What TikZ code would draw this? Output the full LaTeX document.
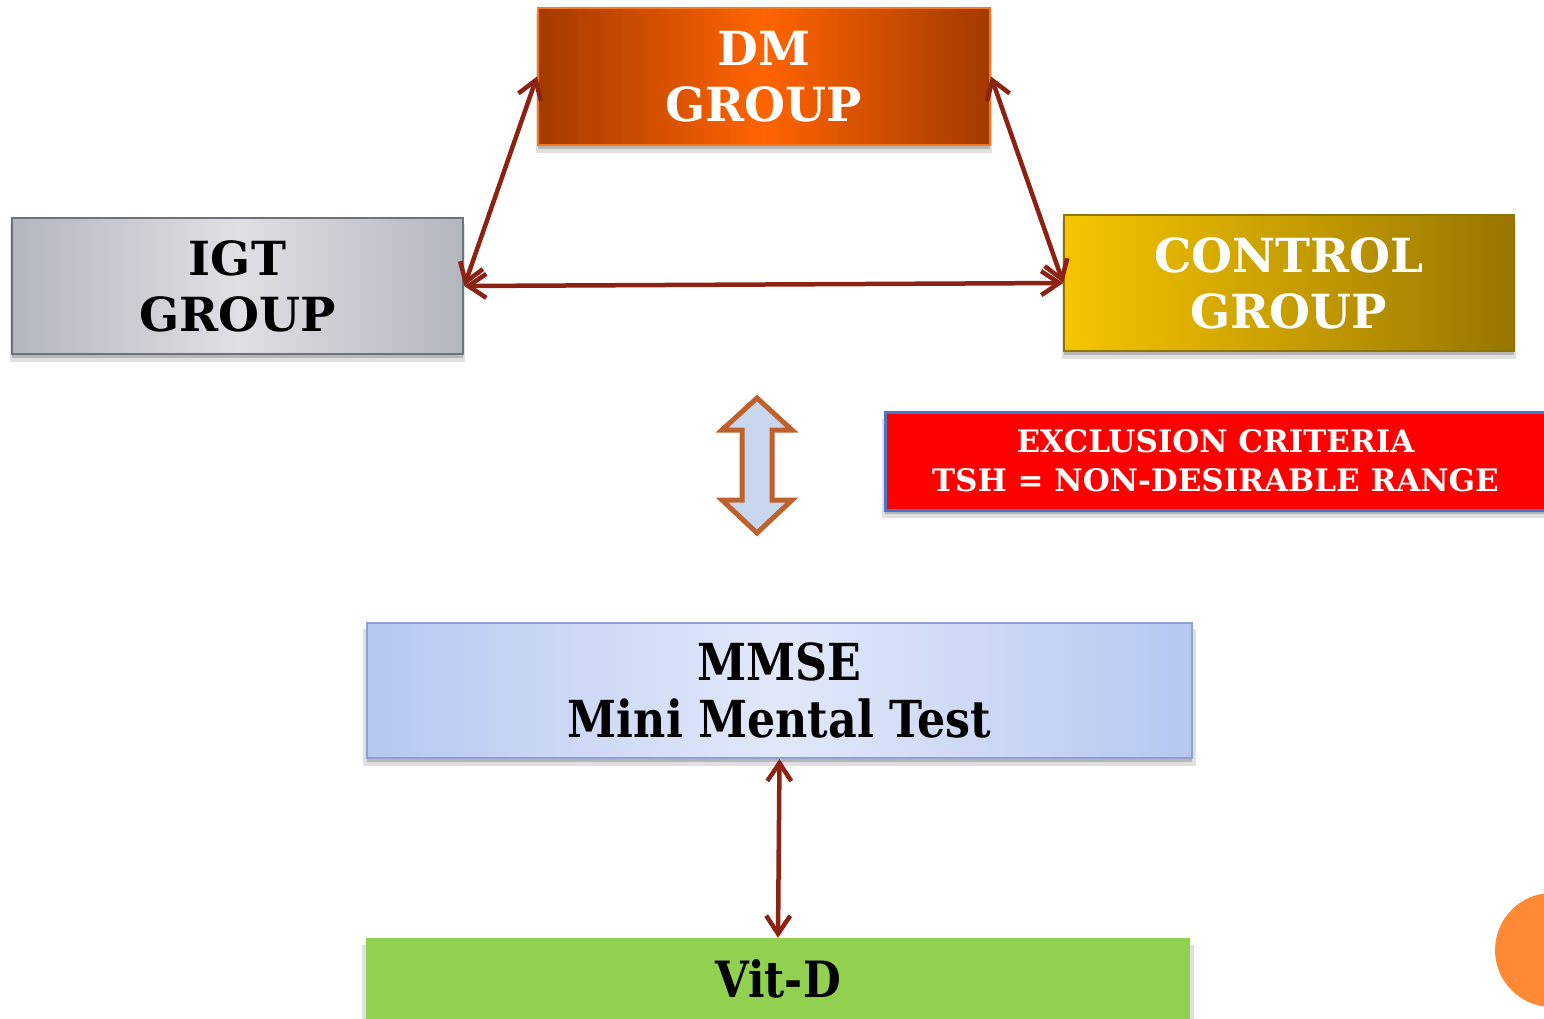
\documentclass[tikz,border=0pt]{standalone}
\usepackage{fontspec}
\setmainfont{DejaVu Serif}
\newfontfamily\condfont[FakeStretch=0.87]{DejaVu Serif}
\usetikzlibrary{arrows.meta,shadows}
\definecolor{arrred}{HTML}{8B2212}
\definecolor{dmdark}{HTML}{A33A00}
\definecolor{dmmid}{HTML}{FF6400}
\definecolor{dmedge}{HTML}{F57A22}
\definecolor{igtdark}{HTML}{B2B6BF}
\definecolor{igtmid}{HTML}{DFE0E4}
\definecolor{igtedge}{HTML}{6B7380}
\definecolor{goldl}{HTML}{F6C500}
\definecolor{goldr}{HTML}{987600}
\definecolor{goldedge}{HTML}{8E7400}
\definecolor{exred}{HTML}{FF0000}
\definecolor{exblue}{HTML}{4A76C8}
\definecolor{mmdark}{HTML}{B6C8F1}
\definecolor{mmmid}{HTML}{E1E8F9}
\definecolor{mmedge}{HTML}{8EA2D2}
\definecolor{vitgreen}{HTML}{92D050}
\definecolor{bafill}{HTML}{C9D7EE}
\definecolor{baedge}{HTML}{BF612A}
\definecolor{circ}{HTML}{FE8A35}
\tikzset{
  boxstyle/.style={rectangle, inner sep=0pt, align=center, font=\bfseries\fontsize{47}{56}\selectfont,
    drop shadow={shadow xshift=0pt, shadow yshift=-7pt, opacity=0.12, fill=black, shadow scale=1.01},
    drop shadow={shadow xshift=0pt, shadow yshift=-4pt, opacity=0.18, fill=black}},
  link/.style={draw=arrred, line width=4.5pt, {Straight Barb[length=18pt,width=24pt]}-{Straight Barb[length=18pt,width=24pt]}}
}
\begin{document}
\begin{tikzpicture}[x=1pt,y=-1pt]
\useasboundingbox (0,0) rectangle (1544,1018);
\fill[white] (0,0) rectangle (1544,1018);

\node[boxstyle, minimum width=452pt, minimum height=137pt, draw=dmedge, line width=2pt,
  left color=dmdark, right color=dmdark, middle color=dmmid, text=white] (dm) at (764,76.5) {DM\\GROUP};
\node[boxstyle, minimum width=451pt, minimum height=136pt, draw=igtedge, line width=2.5pt,
  left color=igtdark, right color=igtdark, middle color=igtmid, text=black] (igt) at (237.5,286) {IGT\\GROUP};
\node[boxstyle, minimum width=450pt, minimum height=136pt, draw=goldedge, line width=1.5pt,
  left color=goldl, right color=goldr, text=white] (ctrl) at (1289,283) {CONTROL\\GROUP};

\node[boxstyle, minimum width=661pt, minimum height=98pt, draw=exblue, line width=3pt, fill=exred, text=white,
  font=\bfseries\fontsize{31}{39}\selectfont] (excl) at (1215.5,461) {EXCLUSION CRITERIA\\TSH = NON-DESIRABLE RANGE};

\node[boxstyle, minimum width=825pt, minimum height=135pt, draw=mmedge, line width=2pt,
  left color=mmdark, right color=mmdark, middle color=mmmid, text=black,
  font=\condfont\bfseries\fontsize{51}{57}\selectfont] (mmse) at (779.5,690.5) {MMSE\\Mini Mental Test};

\node[boxstyle, minimum width=824pt, minimum height=82pt, fill=vitgreen, text=black,
  font=\condfont\bfseries\fontsize{50}{56}\selectfont] (vit) at (778,979) {Vit-D};

\fill[circ] (1552,950) circle (57);

\draw[baedge, line width=5pt, fill=bafill, line join=miter]
  (757,398) -- (792,430) -- (772,430) -- (772,500) -- (792,500) -- (757,533)
  -- (722,500) -- (742,500) -- (742,430) -- (722,430) -- cycle;

\draw[link] (dm.west) -- (igt.east);
\draw[link] (dm.east) -- (ctrl.west);
\draw[link] (igt.east) -- (ctrl.west);
\draw[link] (mmse.south) -- (vit.north);
\end{tikzpicture}
\end{document}
